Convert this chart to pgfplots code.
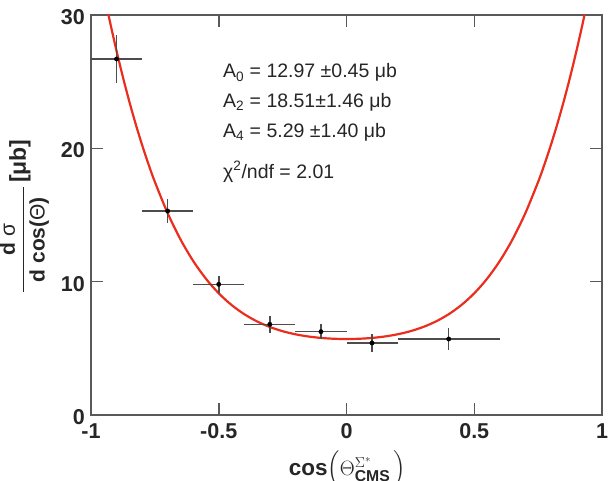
\documentclass[border=0pt]{standalone}
\usepackage{amsmath}
\usepackage{fontspec}
\setmainfont{Liberation Sans}
\usepackage{pgfplots}
\pgfplotsset{compat=1.18}
\definecolor{fitred}{RGB}{235,45,30}
\pgfplotstableread{
x y ex ey
-0.9 26.7 0.1 1.8
-0.7 15.3 0.1 0.9
-0.5 9.8 0.1 0.65
-0.3 6.8 0.1 0.63
-0.1 6.25 0.1 0.57
0.1 5.4 0.1 0.69
0.4 5.7 0.2 0.8
}\datatable
\begin{document}
\begin{tikzpicture}
\path[use as bounding box] (-91pt,-65pt) rectangle (522pt,415pt);
\begin{axis}[
 at={(0pt,0pt)}, anchor=south west,
 scale only axis, width=511pt, height=400pt,
 xmin=-1, xmax=1, ymin=0, ymax=30,
 xtick={-1,-0.5,0,0.5,1}, xticklabels={-1,-0.5,0,0.5,1},
 ytick={0,10,20,30}, yticklabels={0,10,20,30},
 minor tick num=0,
 tick align=inside, major tick length=12pt,
 axis line style={black!65, line width=1.6pt},
 every tick/.style={black!65, line width=1.5pt},
 tick label style={font=\bfseries\fontsize{21.5}{21.5}\selectfont, text=black!85},
 xticklabel style={anchor=base, inner sep=0pt, yshift=-23pt},
 yticklabel style={anchor=east, inner sep=0pt, xshift=-6pt, yshift=-2pt},
 clip=true,
]
\addplot[fitred, line width=2.2pt, smooth] coordinates {
(-0.935,30.318) (-0.93,29.868) (-0.92,28.989) (-0.91,28.143) (-0.9,27.305)
(-0.875,25.335) (-0.85,23.509) (-0.825,21.817) (-0.8,20.252) (-0.775,18.809)
(-0.75,17.481) (-0.7,15.140) (-0.65,13.179) (-0.6,11.552) (-0.55,10.215)
(-0.5,9.127) (-0.45,8.253) (-0.4,7.559) (-0.35,7.017) (-0.3,6.600)
(-0.25,6.285) (-0.2,6.053) (-0.15,5.889) (-0.1,5.780) (-0.05,5.719)
(0,5.699)
(0.05,5.719) (0.1,5.780) (0.15,5.889) (0.2,6.053) (0.25,6.285)
(0.3,6.600) (0.35,7.017) (0.4,7.559) (0.45,8.253) (0.5,9.127)
(0.55,10.215) (0.6,11.552) (0.65,13.179) (0.7,15.140) (0.75,17.481)
(0.775,18.809) (0.8,20.252) (0.825,21.817) (0.85,23.509) (0.875,25.335)
(0.9,27.305) (0.91,28.143) (0.92,28.989) (0.93,29.868) (0.935,30.318)
};
\addplot[only marks, mark=*, mark size=2.2pt, black,
 error bars/.cd, x dir=both, x explicit, y dir=both, y explicit,
 error mark=none, error bar style={line width=1.5pt, black!70}]
 table[x=x, y=y, x error=ex, y error=ey] {\datatable};
\end{axis}
\tikzset{ann/.style={anchor=base west, inner sep=0pt, font=\fontsize{19.5}{19.5}\selectfont, text=black!85}}
\node[ann] at (132pt,337pt) {A\textsubscript{0} = 12.97 ±0.45 μb};
\node[ann] at (132pt,307.5pt) {A\textsubscript{2} = 18.51±1.46 μb};
\node[ann] at (132pt,277.7pt) {A\textsubscript{4} = 5.29 ±1.40 μb};
\node[ann] at (132pt,236.7pt) {χ\textsuperscript{2}/ndf = 2.01};
\node[anchor=base, inner sep=0pt, text=black!85] at (256.5pt,-60pt) {\bfseries\fontsize{22.5}{22.5}\selectfont cos$\Bigl(\Theta^{\Sigma^{*}}_{\text{\bfseries CMS}}\,\Bigr)$};
\node[rotate=90, anchor=base, inner sep=0pt, text=black!85] at (-62pt,198.5pt) {\bfseries\fontsize{21}{21}\selectfont $\dfrac{\text{d \mdseries σ}\rule[-2pt]{0pt}{0pt}}{\rule{0pt}{18pt}\text{\hspace{10pt}d cos(\mdseries Θ\bfseries)\hspace{10pt}}}$\hspace{3pt}\raisebox{3pt}{\fontsize{23}{23}\selectfont[μb]}};
\end{tikzpicture}
\end{document}
